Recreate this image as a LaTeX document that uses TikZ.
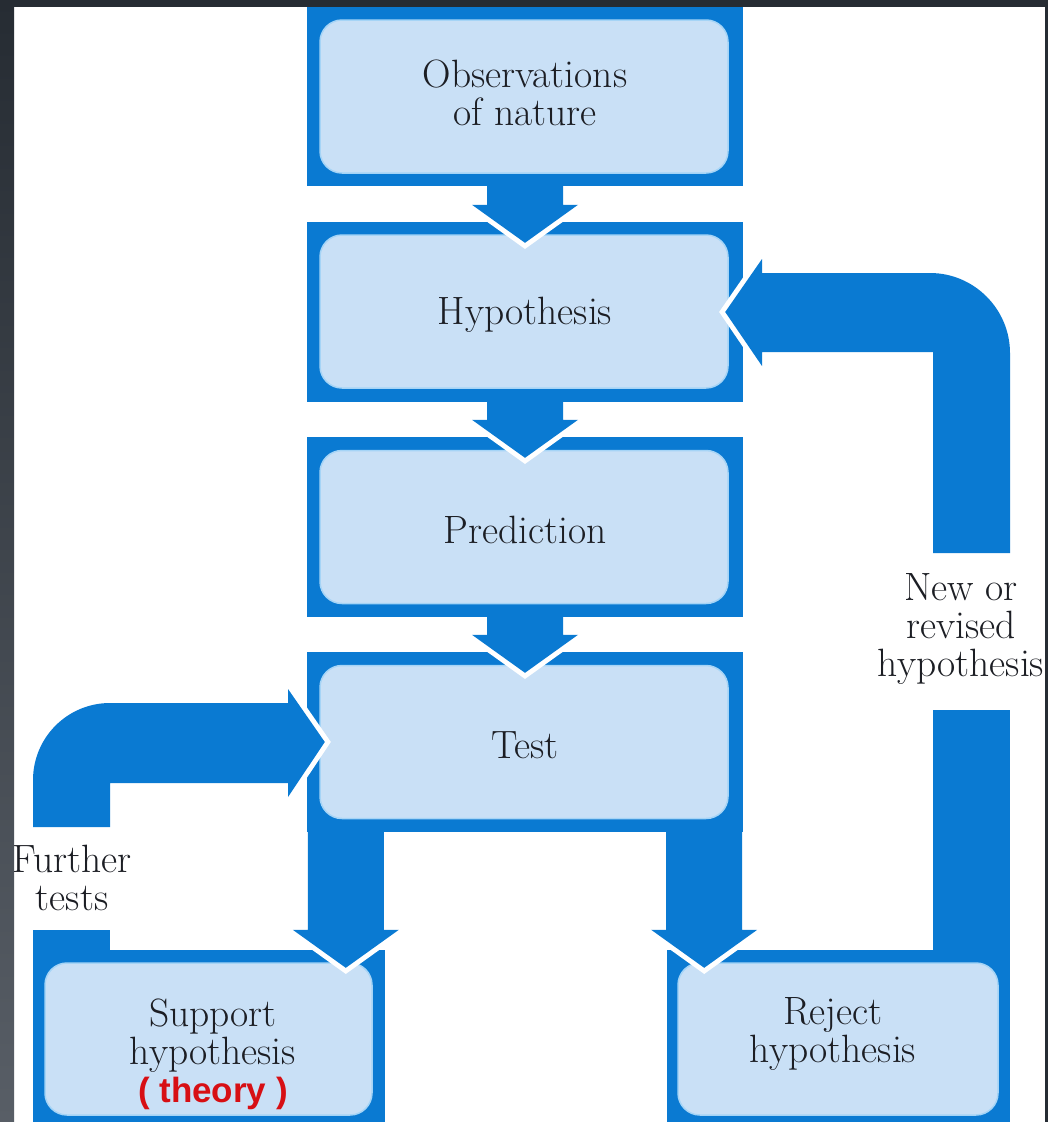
\documentclass[tikz,border=0pt]{standalone}
\usepackage{fontspec}
\newfontfamily\theoryfont{Liberation Sans}
\usetikzlibrary{calc}
\definecolor{bblue}{RGB}{10,122,210}
\definecolor{lblue}{RGB}{201,224,246}
\definecolor{eblue}{RGB}{165,212,246}
\definecolor{framec}{RGB}{38,44,51}
\definecolor{framed}{RGB}{88,94,102}
\definecolor{tred}{RGB}{215,15,20}
\definecolor{txtc}{RGB}{28,30,36}
\newcommand\diagfs{\fontsize{39.5}{38}\selectfont}
\newcommand\dnarrow[2]{%
  \path[arrowedge] let \p1=#1, \p2=#2 in
    (\x1-38pt,\y1) -- (\x1-38pt,\y2+38pt) -- (\x1-53pt,\y2+38pt) -- (\x1,\y2)
    -- (\x1+53pt,\y2+38pt) -- (\x1+38pt,\y2+38pt) -- (\x1+38pt,\y1);
  \fill[arrowfill] let \p1=#1, \p2=#2 in
    (\x1-38pt,\y1) -- (\x1-38pt,\y2+38pt) -- (\x1-53pt,\y2+38pt) -- (\x1,\y2)
    -- (\x1+53pt,\y2+38pt) -- (\x1+38pt,\y2+38pt) -- (\x1+38pt,\y1) -- cycle;}
\begin{document}
\begin{tikzpicture}[x=1pt,y=-1pt,
  outerbox/.style={rectangle, fill=bblue, inner sep=0, minimum width=436pt, minimum height=180pt},
  innerbox/.style={rectangle, rounded corners=22pt, fill=lblue, draw=eblue, line width=1.5pt,
    inner sep=0, minimum width=408pt, minimum height=153pt},
  lbl/.style={align=center, font=\diagfs, text=txtc, inner sep=0},
  arrowedge/.style={draw=white, line width=10pt, line join=miter},
  arrowfill/.style={fill=bblue},
]
\useasboundingbox (0,0) rectangle (1048,1122);
\clip (0,0) rectangle (1048,1122);
\fill[white] (0,0) rectangle (1048,1122);

% outer boxes
\node[outerbox] (obs) at (525,96) {};
\node[outerbox] (hyp) at (525,312) {};
\node[outerbox] (pred) at (525,527) {};
\node[outerbox] (test) at (525,742) {};
\node[outerbox, minimum width=352pt] (sup) at (209,1040) {};
\node[outerbox, minimum width=343pt] (rej) at (838.5,1040) {};

% loop stubs attached to the bottom boxes
\fill[bblue] ($(rej.north east)+(-77,0)$) rectangle ($(rej.north east)+(0,-240)$);
\fill[bblue] (sup.north west) rectangle ($(sup.north west)+(77,-20)$);

% inner boxes
\node[innerbox] (obsT) at (524,96.5) {};
\node[innerbox] (hypT) at (524,311.5) {};
\node[innerbox] (predT) at (524,527) {};
\node[innerbox] (testT) at (524,742) {};
\node[innerbox, minimum width=327pt, minimum height=152pt] (supT) at (208.5,1039) {};
\node[innerbox, minimum width=320pt, minimum height=152pt] (rejT) at (838,1039) {};

% texts
\node[lbl] (obsL) at ($(obsT.center)+(1,-4)$) {Observations\\of nature};
\node[lbl] (hypL) at ($(hypT.center)+(1,3)$) {Hypothesis};
\node[lbl] (predL) at ($(predT.center)+(1,3)$) {Prediction};
\node[lbl] (testL) at ($(testT.center)+(1,3)$) {Test};
\node[lbl] (rejL) at ($(rejT.center)+(-5,-5)$) {Reject\\hypothesis};
\node[lbl] (supL) at (213,1054) {Support\\hypothesis\\{\theoryfont\fontsize{35}{38}\selectfont\bfseries\color{tred}( theory )}};

% down arrows
\dnarrow{(obs.south)}{($(hyp.north)+(0,21)$)}
\dnarrow{(hyp.south)}{($(pred.north)+(0,21)$)}
\dnarrow{(pred.south)}{($(test.north)+(0,21)$)}
\dnarrow{($(test.south west)+(39,0)$)}{($(sup.north)+(0,18)$)}
\dnarrow{($(test.south east)+(-39,0)$)}{($(rej.north)+(0,18)$)}

% new or revised hypothesis loop
\def\newloop{(933,553) -- (933,352) -- (762,352) -- (762,366)
  -- ($(hyp.east)+(-18,0)$) -- (762,259) -- (762,273) -- (930,273)
  .. controls (974,273) and (1010,309) .. (1010,353) -- (1010,553) -- cycle}
\path[arrowedge] \newloop;
\fill[arrowfill] \newloop;

% further tests loop
\def\furtherloop{(110,827) -- (110,783) -- (288,783) -- (288,797)
  -- ($(test.west)+(18,0)$) -- (288,689) -- (288,703) -- (110,703)
  .. controls (67.5,703) and (33,737.5) .. (33,780) -- (33,827) -- cycle}
\path[arrowedge] \furtherloop;
\fill[arrowfill] \furtherloop;

% labels
\node[lbl] (further) at (72,878) {Further\\tests};
\node[lbl] (newhyp) at (961,629) {New or\\revised\\hypothesis};

% frame
\shade[top color=framec, bottom color=framed] (0,0) rectangle (14,1122);
\fill[framec] (0,0) rectangle (1048,7);
\fill[framec] (1045,0) rectangle (1048,1122);
\end{tikzpicture}
\end{document}
